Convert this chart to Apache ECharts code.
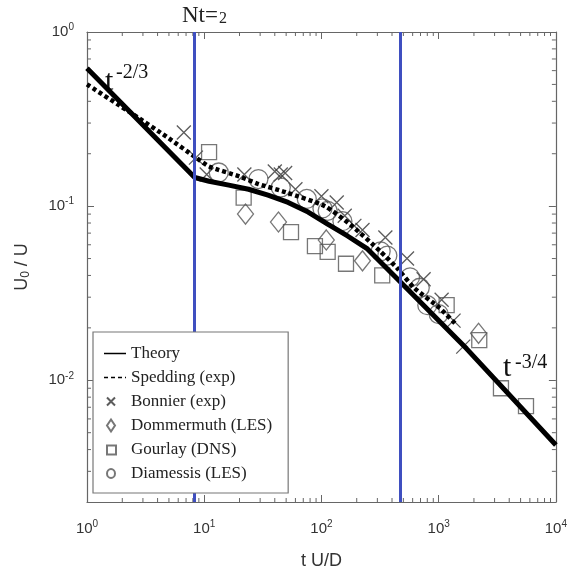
<!DOCTYPE html>
<html>
<head>
<meta charset="utf-8">
<script src="https://cdn.jsdelivr.net/npm/echarts@6/dist/echarts.min.js"></script>
<style>
  html, body { margin: 0; padding: 0; background: #fff; }
  #chart { width: 570px; height: 575px; }
</style>
</head>
<body>
<div id="chart"></div>
<script>
// 坐标范围
const xRange = [1, 10000];
const yRange = [0.002, 1];
// Nt = 2 等竖线位置
const nLines = [8.3, 470];

// 曲线 [t, U0/U]
const theory = [[1, 0.62], [8.3, 0.146], [11, 0.139], [16.2, 0.132], [23.9, 0.125], [35, 0.1156],
  [52, 0.105], [77, 0.0924], [113, 0.0789], [167, 0.0674], [247, 0.0568], [443, 0.0383],
  [1727, 0.0152], [10000, 0.00425]];
const spedding = [[1, 0.50], [2.5, 0.335], [5, 0.245], [8.5, 0.19], [11, 0.169], [20, 0.148],
  [29, 0.134], [50, 0.12], [107, 0.10], [178, 0.078], [318, 0.055], [443, 0.044],
  [616, 0.034], [1020, 0.026], [1400, 0.021]];

// 散点
const bonnier = [[6.7, 0.265], [8.5, 0.19], [10.5, 0.152], [22, 0.152], [40, 0.158], [45, 0.152],
  [49, 0.155], [60, 0.125], [100, 0.114], [135, 0.105], [158, 0.088], [191, 0.077],
  [224, 0.073], [351, 0.066], [537, 0.050], [744, 0.038], [1060, 0.029], [1340, 0.022],
  [1620, 0.0156]];
const dommermuth = [[22.5, 0.090], [43, 0.081], [110, 0.064], [224, 0.0485], [2190, 0.0186]];
const gourlay = [[11, 0.204], [21.7, 0.112], [55, 0.071], [88, 0.059], [113, 0.0546],
  [162, 0.0467], [330, 0.040], [1170, 0.027], [2220, 0.017], [3400, 0.009], [5560, 0.0071]];
const diamessis = [[13.3, 0.156], [29, 0.143], [45, 0.128], [75, 0.110], [102, 0.097],
  [113, 0.094], [151, 0.082], [320, 0.055], [365, 0.052], [570, 0.039], [690, 0.034],
  [800, 0.027], [1000, 0.024]];

const axisColor = '#666';
const labelColor = '#333';
const sans = 'Liberation Sans';
const serif = 'Liberation Serif';

// 只显示整十次幂
function pow10(v) {
  const lg = Math.log10(v);
  const e = Math.round(lg);
  if (Math.abs(lg - e) > 1e-6) return '';
  return '{b|10}{s|' + e + '}';
}
const labelRich = {
  b: { fontSize: 15, color: labelColor, fontFamily: sans },
  s: { fontSize: 10, color: labelColor, fontFamily: sans, padding: [0, 0, 9, 0] }
};

// 对数次刻度 (2..9)
function minorTicks(params, api) {
  const cs = params.coordSys;
  const children = [];
  const len = 4;
  const line = (x1, y1, x2, y2) => children.push({
    type: 'line', shape: { x1, y1, x2, y2 }, style: { stroke: axisColor, lineWidth: 1 }
  });
  for (let d = 1; d < xRange[1]; d *= 10) {
    for (let k = 2; k <= 9; k++) {
      const x = api.coord([d * k, 1])[0];
      line(x, cs.y + cs.height, x, cs.y + cs.height - len);
      line(x, cs.y, x, cs.y + len);
    }
  }
  for (let p = -3; p < 0; p++) {
    for (let k = 2; k <= 9; k++) {
      const v = k * Math.pow(10, p);
      if (v <= yRange[0] * 1.0001 || v >= yRange[1]) continue;
      const y = api.coord([1, v])[1];
      line(cs.x, y, cs.x + len, y);
      line(cs.x + cs.width, y, cs.x + cs.width - len, y);
    }
  }
  return { type: 'group', children };
}

const chart = echarts.init(document.getElementById('chart'));

const baseX = {
  type: 'log', logBase: 10, min: xRange[0], max: xRange[1],
  axisLine: { show: true, onZero: false, lineStyle: { color: axisColor, width: 1.2 } },
  axisTick: { show: true, inside: true, length: 7, lineStyle: { color: axisColor } },
  splitLine: { show: false }
};
const baseY = {
  type: 'log', logBase: 10, min: yRange[0], max: yRange[1],
  axisLine: { show: true, onZero: false, lineStyle: { color: axisColor, width: 1.2 } },
  axisTick: { show: true, inside: true, length: 7, lineStyle: { color: axisColor } },
  splitLine: { show: false }
};

// 图例里的小符号 (靠左放)
const hideSym = { color: 'rgba(0,0,0,0)', borderColor: 'rgba(0,0,0,0)', borderWidth: 0 };

const option = {
  animation: false,
  backgroundColor: '#fff',
  grid: { left: 87, right: 8, top: 32, bottom: 71 },
  xAxis: [
    Object.assign({}, baseX, {
      position: 'bottom',
      axisLabel: { formatter: pow10, rich: labelRich, margin: 17 },
      name: 't U/D', nameLocation: 'middle', nameGap: 50,
      nameTextStyle: { fontSize: 18, color: labelColor, fontFamily: sans }
    }),
    Object.assign({}, baseX, { position: 'top', axisLabel: { show: false } })
  ],
  yAxis: [
    Object.assign({}, baseY, {
      position: 'left',
      axisLabel: { formatter: pow10, rich: labelRich, margin: 13 },
      name: 'U{s|0} / U', nameLocation: 'middle', nameGap: 55, nameRotate: 90,
      nameTextStyle: {
        fontSize: 18, color: labelColor, fontFamily: sans,
        rich: { s: { fontSize: 12, color: labelColor, fontFamily: sans, padding: [8, 0, 0, 0] } }
      }
    }),
    Object.assign({}, baseY, { position: 'right', axisLabel: { show: false } })
  ],
  legend: {
    data: [
      { name: 'Theory', itemStyle: hideSym, lineStyle: { width: 1.5, type: 'solid' } },
      { name: 'Spedding (exp)', itemStyle: hideSym, lineStyle: { width: 1.5, type: [4, 3] } },
      { name: 'Bonnier (exp)', icon: 'path://M0,0M22,14M3,3L11,11M11,3L3,11' },
      { name: 'Dommermuth (LES)', icon: 'path://M0,0M22,14M7,1L11,7L7,13L3,7Z' },
      { name: 'Gourlay (DNS)', icon: 'path://M0,0M22,14M3,3H12V12H3Z' },
      { name: 'Diamessis (LES)', icon: 'path://M0,0M22,14M11,7A4,4.5 0 1 1 3,7A4,4.5 0 1 1 11,7Z' }
    ],
    orient: 'vertical',
    left: 93, top: 332, z: 20,
    padding: [13, 16, 11, 10],
    itemGap: 7,
    itemWidth: 22, itemHeight: 14,
    borderColor: '#777', borderWidth: 1.2,
    backgroundColor: '#fff',
    selectedMode: false,
    textStyle: { fontFamily: serif, fontSize: 17, color: '#222' }
  },
  graphic: [
    {
      type: 'group', children: [
        { type: 'text', x: 182, y: 16, style: { text: 'Nt=', font: '23px "Liberation Serif"', fill: '#222', verticalAlign: 'middle' } },
        { type: 'text', x: 219, y: 19, style: { text: '2', font: '16px "Liberation Serif"', fill: '#222', verticalAlign: 'middle' } },
        { type: 'text', x: 105, y: 82, style: { text: 't', font: '30px "Liberation Serif"', fill: '#111', verticalAlign: 'middle' } },
        { type: 'text', x: 116, y: 73, style: { text: '-2/3', font: '20px "Liberation Serif"', fill: '#111', verticalAlign: 'middle' } },
        { type: 'text', x: 503, y: 368, style: { text: 't', font: '30px "Liberation Serif"', fill: '#111', verticalAlign: 'middle' } },
        { type: 'text', x: 515, y: 363, style: { text: '-3/4', font: '20px "Liberation Serif"', fill: '#111', verticalAlign: 'middle' } }
      ]
    }
  ],
  series: [
    {
      type: 'custom', name: 'minor', renderItem: minorTicks, data: [[1, 1]],
      silent: true, clip: false, z: 1
    },
    {
      type: 'scatter', name: 'Nt', data: [], z: 2,
      markLine: {
        silent: true, symbol: 'none', label: { show: false },
        lineStyle: { color: '#3f4fc0', width: 3, type: 'solid' },
        data: nLines.map(v => ({ xAxis: v }))
      }
    },
    {
      type: 'scatter', name: 'Bonnier (exp)', data: bonnier, z: 3,
      symbol: 'path://M0,0L10,10M10,0L0,10', symbolSize: 14,
      itemStyle: { color: 'rgba(0,0,0,0)', borderColor: '#333', borderWidth: 1.3 }
    },
    {
      type: 'scatter', name: 'Dommermuth (LES)', data: dommermuth, z: 3,
      symbol: 'path://M8,0L16,10L8,20L0,10Z', symbolSize: [16, 20],
      itemStyle: { color: 'rgba(0,0,0,0)', borderColor: '#555', borderWidth: 1.3 }
    },
    {
      type: 'scatter', name: 'Gourlay (DNS)', data: gourlay, z: 3,
      symbol: 'rect', symbolSize: 15,
      itemStyle: { color: 'rgba(0,0,0,0)', borderColor: '#555', borderWidth: 1.3 }
    },
    {
      type: 'scatter', name: 'Diamessis (LES)', data: diamessis, z: 3,
      symbol: 'circle', symbolSize: 19,
      itemStyle: { color: 'rgba(0,0,0,0)', borderColor: '#555', borderWidth: 1.3 }
    },
    {
      type: 'line', name: 'Theory', data: theory, z: 4,
      symbol: 'none', smooth: false,
      lineStyle: { color: '#000', width: 5 }, itemStyle: { color: '#000' }
    },
    {
      type: 'line', name: 'Spedding (exp)', data: spedding, z: 4,
      symbol: 'none', smooth: 0.2,
      lineStyle: { color: '#000', width: 4.5, type: [4, 3] }, itemStyle: { color: '#000' }
    }
  ]
};

chart.setOption(option);
</script>
</body>
</html>
